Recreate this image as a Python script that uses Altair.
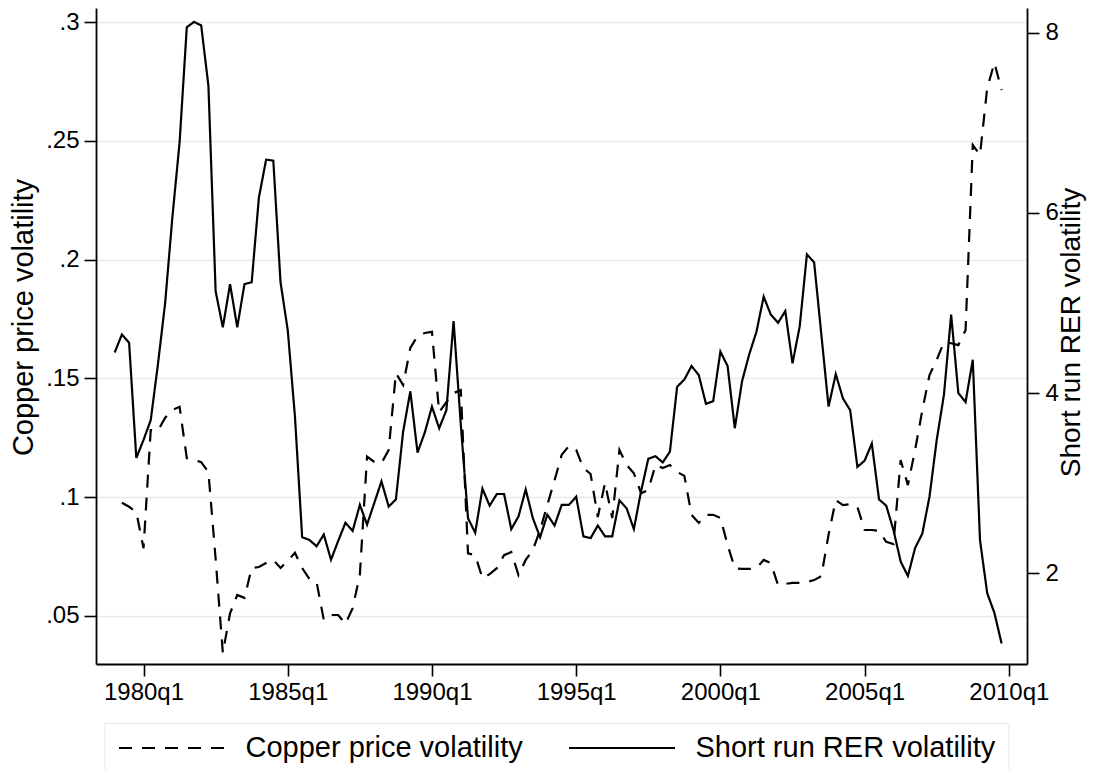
import altair as alt
import pandas as pd

# Quarterly index: 0 = 1979q1
series_names = ["Copper price volatility", "Short run RER volatility"]

rer = [4.45, 4.65, 4.56, 3.28, 3.48, 3.70, 4.32, 5.00, 5.95, 6.78,
       8.06, 8.12, 8.08, 7.41, 5.13, 4.73, 5.21, 4.73, 5.21, 5.23,
       6.17, 6.59, 6.58, 5.23, 4.70, 3.74, 2.40, 2.37, 2.30, 2.43,
       2.15, 2.36, 2.56, 2.47, 2.76, 2.54, 2.78, 3.02, 2.74, 2.82,
       3.57, 4.02, 3.34, 3.56, 3.85, 3.61, 3.81, 4.80, 3.65, 2.61,
       2.45, 2.94, 2.75, 2.88, 2.88, 2.49, 2.63, 2.93, 2.61, 2.40,
       2.65, 2.53, 2.76, 2.76, 2.85, 2.41, 2.39, 2.53, 2.41, 2.41,
       2.81, 2.72, 2.49, 2.91, 3.27, 3.30, 3.23, 3.35, 4.07, 4.15,
       4.30, 4.20, 3.88, 3.91, 4.46, 4.30, 3.61, 4.13, 4.43, 4.68,
       5.07, 4.87, 4.78, 4.91, 4.33, 4.74, 5.54, 5.45, 4.65, 3.85,
       4.21, 3.94, 3.81, 3.18, 3.25, 3.44, 2.82, 2.75, 2.48, 2.13,
       1.97, 2.28, 2.44, 2.85, 3.48, 3.98, 4.87, 4.00, 3.90, 4.37,
       2.37, 1.78, 1.56, 1.22]

copper = [None, .0976, .0959, .0937, .0784, .1282, .128, .1334, .1367, .138,
          .1164, .1156, .1147, .1105, .074, .0343, .051, .0587, .0575, .0701,
          .0705, .0722, .0735, .0701, .0731, .0765, .0701, .0655, .0642, .0482,
          .0503, .0503, .0465, .0532, .0672, .117, .1148, .1143, .1198, .1522,
          .1472, .1628, .1678, .1691, .1696, .1357, .140, .1438, .145, .0763,
          .0755, .0658, .0675, .070, .0755, .0768, .0671, .0735, .0777, .0861,
          .0967, .107, .1178, .1215, .1199, .1122, .1097, .0916, .1059, .0911,
          .1198, .1135, .110, .1016, .103, .1135, .1122, .1135, .1106, .1089,
          .0925, .0891, .0925, .0925, .0912, .0798, .070, .0697, .0697, .070,
          .0735, .0721, .0629, .0634, .0638, .0638, .0642, .065, .0667, .0841,
          .0987, .0966, .097, .0958, .0861, .0861, .0857, .0811, .0802, .1156,
          .105, .1198, .1365, .1514, .1578, .1653, .1648, .164, .1703, .2483,
          .2441, .2723, .2829, .2715]

x_tick_values = [4, 24, 44, 64, 84, 104, 124]
x_tick_labels = ["1980q1", "1985q1", "1990q1", "1995q1", "2000q1", "2005q1", "2010q1"]
left_tick_values = [0.05, 0.1, 0.15, 0.2, 0.25, 0.3]
left_tick_labels = [".05", ".1", ".15", ".2", ".25", ".3"]
right_tick_values = [2, 4, 6, 8]

copper_df = pd.DataFrame([{"q": i, "value": v, "series": series_names[0]}
                          for i, v in enumerate(copper) if v is not None])
rer_df = pd.DataFrame([{"q": i, "value": v, "series": series_names[1]}
                       for i, v in enumerate(rer)])

FONT = "Liberation Sans"

def js_list(items):
    return "[" + ",".join(repr(s) if isinstance(s, str) else str(s) for s in items) + "]"

x_label_expr = f"{js_list(x_tick_labels)}[indexof({js_list(x_tick_values)}, datum.value)]"
left_label_expr = f"{js_list(left_tick_labels)}[indexof({js_list(left_tick_values)}, datum.value)]"

x_enc = alt.X(
    "q:Q",
    scale=alt.Scale(domain=[-2.59, 126.52], nice=False, zero=False),
    axis=alt.Axis(values=x_tick_values, labelExpr=x_label_expr, title=None,
                  grid=False, labelPadding=4, labelFlush=False, labelOverlap=False),
)

dash_scale = alt.Scale(domain=series_names, range=[[13, 10], [1, 0]])
legend = alt.Legend(
    title=None, orient="none", legendX=8.5, legendY=715, direction="horizontal",
    symbolType="stroke", symbolSize=11236, symbolStrokeWidth=2.2,
    symbolStrokeColor="black", clipHeight=24, labelFontSize=29, labelFont=FONT,
    labelColor="black", labelOffset=19, columnPadding=44, padding=13,
    strokeColor="#dfe8ec", fillColor="white", labelLimit=500,
)

copper_line = alt.Chart(copper_df).mark_line(color="black", strokeWidth=2.2).encode(
    x=x_enc,
    y=alt.Y("value:Q",
            scale=alt.Scale(domain=[0.02965, 0.30602], nice=False, zero=False),
            axis=alt.Axis(orient="left", values=left_tick_values,
                          labelExpr=left_label_expr,
                          title="Copper price volatility", grid=True,
                          gridColor="#e3ecf0", gridWidth=1.5, labelPadding=5,
                          titleFontSize=29,
                          titleAngle=270, titleX=-73, titleY=309,
                          titleBaseline="middle", titleAlign="center")),
    strokeDash=alt.StrokeDash("series:N", scale=dash_scale, legend=legend),
)

rer_line = alt.Chart(rer_df).mark_line(color="black", strokeWidth=2.2).encode(
    x=x_enc,
    y=alt.Y("value:Q",
            scale=alt.Scale(domain=[0.993, 8.274], nice=False, zero=False),
            axis=alt.Axis(orient="right", values=right_tick_values, format="d",
                          title="Short run RER volatility", grid=False,
                          titleFontSize=28,
                          labelPadding=6, titleAngle=270, titleX=44, titleY=324,
                          titleBaseline="middle", titleAlign="center")),
    strokeDash=alt.StrokeDash("series:N", scale=dash_scale, legend=legend),
)

chart = (
    alt.layer(copper_line, rer_line)
    .resolve_scale(y="independent")
    .properties(
        width=931, height=656,
        autosize=alt.AutoSizeParams(type="none"),
        padding={"left": 88, "top": 0, "right": 60, "bottom": 106},
        background="white",
    )
    .configure_view(stroke=None)
    .configure_axis(
        domainColor="black", domainWidth=1.8, tickColor="black", tickWidth=1.6,
        tickSize=12, labelFont=FONT, labelFontSize=24, labelColor="black",
        titleFont=FONT, titleColor="black",
        titleFontWeight="normal",
    )
)

chart.save("out.html", embed_options={"renderer": "svg", "actions": False})
